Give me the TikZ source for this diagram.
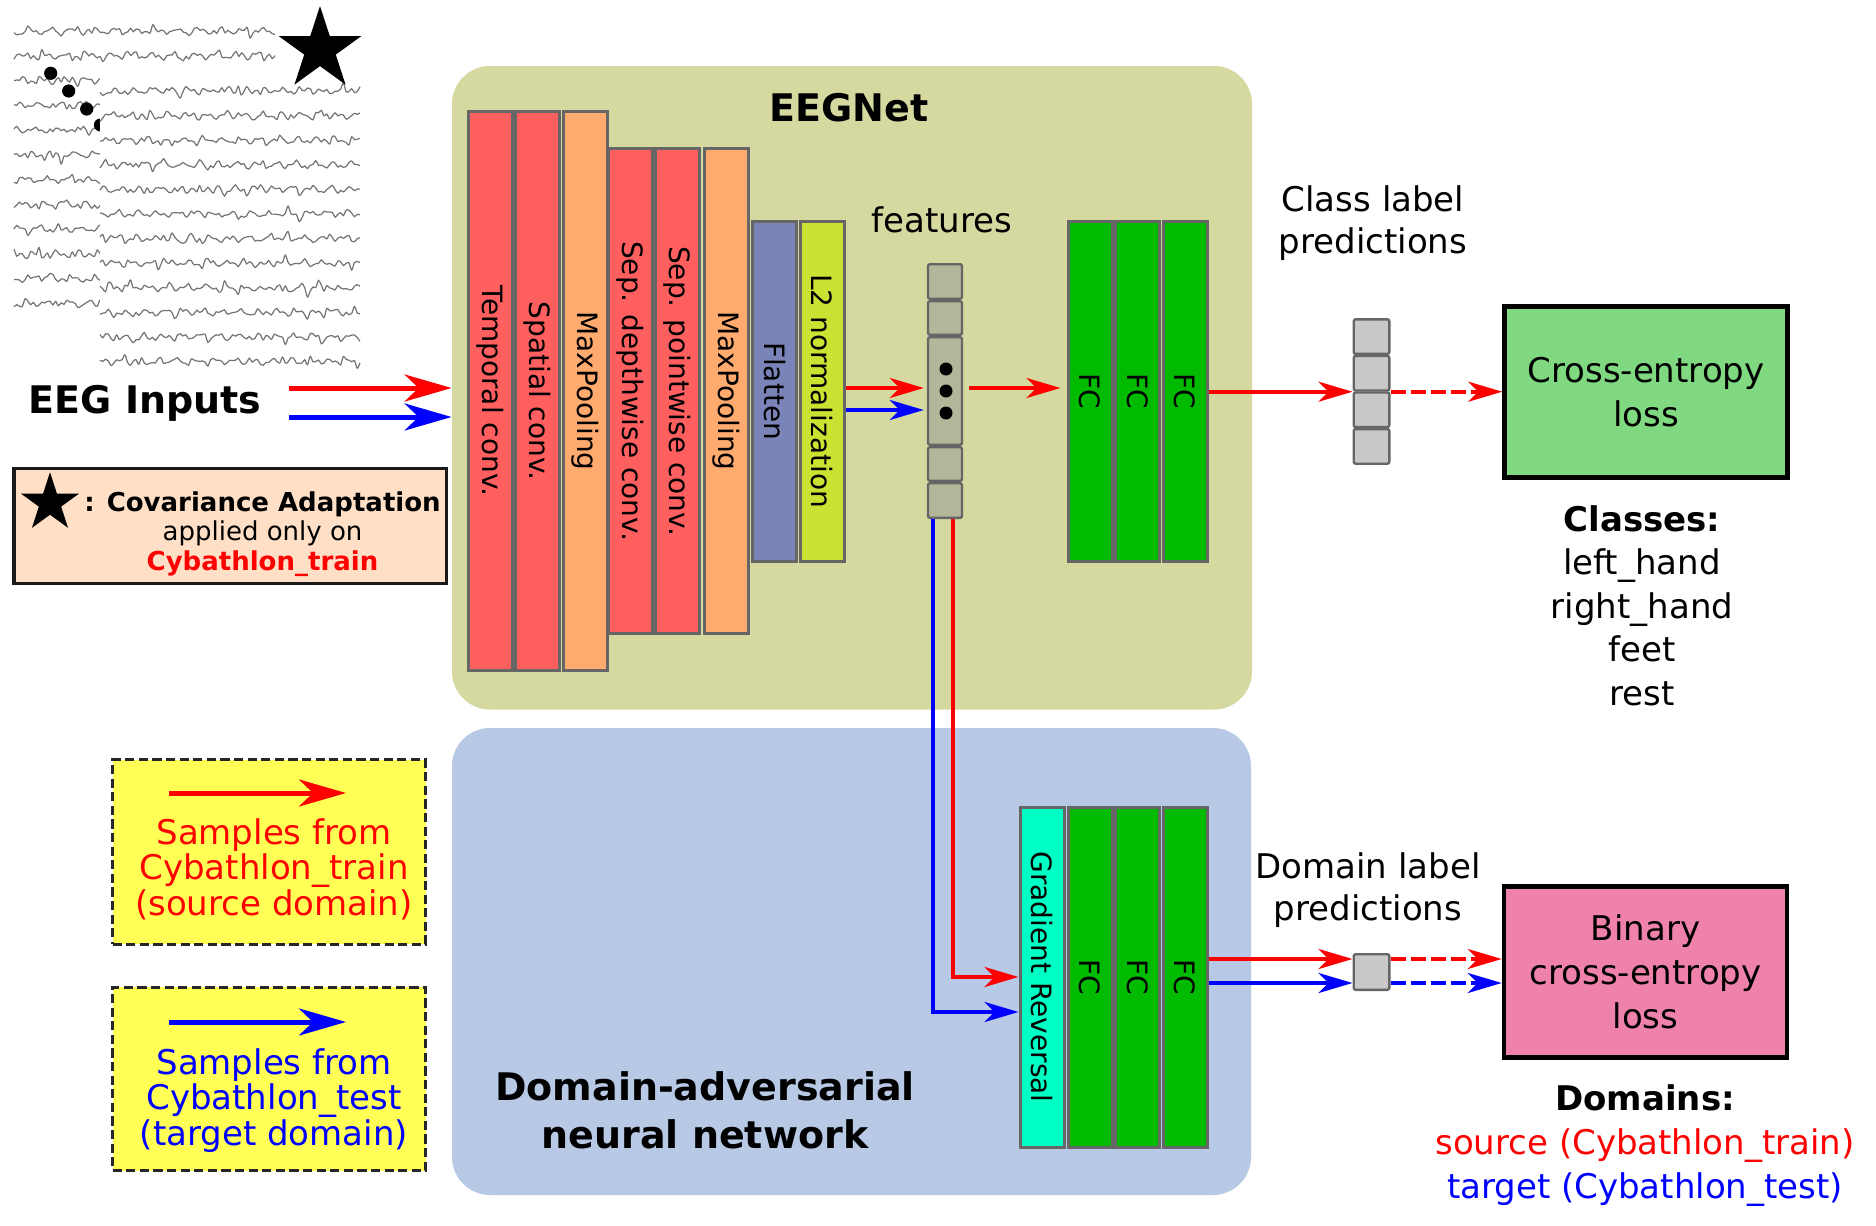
\documentclass[tikz,border=0pt]{standalone}
\usepackage{fontspec}
\setmainfont{DejaVu Sans}
\usetikzlibrary{shapes, arrows.meta, positioning, calc}

\definecolor{convred}{RGB}{255, 95, 95}
\definecolor{poolorange}{RGB}{255, 170, 110}
\definecolor{flatblue}{RGB}{122, 132, 184}
\definecolor{normgreen}{RGB}{204, 226, 51}
\definecolor{fcgreen}{RGB}{0, 187, 0}
\definecolor{gradcyan}{RGB}{0, 255, 196}
\definecolor{eegbg}{RGB}{213, 217, 160}
\definecolor{dannbg}{RGB}{184, 201, 230}
\definecolor{featgray}{RGB}{180, 182, 153}
\definecolor{predgray}{RGB}{200, 200, 200}
\definecolor{cegreen}{RGB}{128, 216, 128}
\definecolor{bcepink}{RGB}{239, 130, 170}
\definecolor{covpeach}{RGB}{255, 223, 198}
\definecolor{legyellow}{RGB}{255, 255, 85}
\definecolor{layerborder}{RGB}{102, 102, 102}
\definecolor{tracegray}{RGB}{115, 115, 115}
\definecolor{srcred}{RGB}{255, 0, 0}
\definecolor{tgtblue}{RGB}{0, 0, 255}

\begin{document}
\begin{tikzpicture}[x=0.5pt, y=-0.5pt,
  panel/.style={rounded corners=19pt, inner sep=0pt},
  layer/.style={draw=layerborder, line width=1.5pt, minimum width=22pt, minimum height=170pt, inner sep=0pt},
  layertext/.style={rotate=-90, font=\fontsize{14}{17}\selectfont},
  cell/.style={draw=layerborder, line width=1.2pt, minimum width=17pt, inner sep=0pt, rounded corners=1pt},
  lossbox/.style={draw=black, line width=2.25pt, minimum width=141.5pt, minimum height=85.5pt, inner sep=0pt, align=center, font=\fontsize{17}{22}\selectfont},
  legbox/.style={draw=black!85, line width=1.5pt, dash pattern=on 4.6pt off 2.2pt, fill=legyellow, minimum width=156.5pt, inner sep=0pt},
  lbl/.style={align=center, anchor=base, font=\fontsize{17}{21}\selectfont},
  title/.style={align=center, anchor=base, font=\bfseries\fontsize{19}{24}\selectfont},
  sig/.style={line width=2pt, -{Stealth[length=17pt, width=10pt, inset=5pt]}},
  bigsig/.style={line width=2.5pt, -{Stealth[length=23.5pt, width=13.5pt, inset=7pt]}},
  dashpat/.style={dash pattern=on 7.5pt off 2.5pt},
  trace/.style={draw=tracegray, line width=0.6pt},
  ]
  \useasboundingbox (0,0) rectangle (1876,1226);

  % Background panels
  \node[panel, fill=eegbg, minimum width=400pt, minimum height=321.75pt] (eegnet) at (852,387.75) {};
  \node[panel, fill=dannbg, minimum width=399.5pt, minimum height=233.5pt] (dann) at (851.5,961.5) {};
  \node[title] (eegtitle) at (849,121) {EEGNet};
  \node[title] (danntitle) at (705,1148) {Domain-adversarial\\neural network};

  % EEG traces: back sheet, dots, front sheet
  \pgfmathsetseed{42}
  \foreach \i in {0,...,11}
    \draw[trace] plot[smooth, tension=0.55, domain=0:261, samples=95]
      ({14+\x}, {31+24.75*\i + 2.2*sin(17*\x+71*\i) + 1.6*sin(43*\x+113*\i) + 7*rand*rand*rand + 0.8*rand});
  \foreach \p in {(50.7,73.3), (68.7,91), (86.7,109), (100.5,125)}
    \fill \p circle (3.3pt);
  \fill[white] (100,66) rectangle (368,380);
  \foreach \i in {0,...,11}
    \draw[trace] plot[smooth, tension=0.55, domain=0:260, samples=95]
      ({100+\x}, {91+24.6*\i + 2.2*sin(19*\x+53*\i) + 1.6*sin(41*\x+29*\i) + 7*rand*rand*rand + 0.8*rand});
  \node[star, star points=5, star point ratio=2.618, fill=black, inner sep=0pt, minimum size=43.5pt] (bigstar) at (320,49.5) {};

  % Inputs
  \node[title] (inputs) at (145,413) {EEG Inputs};
  \coordinate (inred) at (289,388);
  \coordinate (inblue) at (289,417);
  \draw[bigsig, srcred] (inred) -- (inred -| eegnet.west);
  \draw[bigsig, tgtblue] (inblue) -- (inblue -| eegnet.west);

  % Covariance adaptation note
  \node[draw=black!90, line width=1.75pt, fill=covpeach, minimum width=216.25pt, minimum height=57.5pt, inner sep=0pt] (covbox) at (230,526) {};
  \node[star, star points=5, star point ratio=2.618, fill=black, inner sep=0pt, minimum size=30.7pt] (covstar) at (50,503) {};
  \node[align=center, anchor=base, font=\fontsize{13}{14.75}\selectfont] (covtxt) at (262.5,570)
    {\textbf{: Covariance Adaptation}\\applied only on\\\textcolor{srcred}{\textbf{Cybathlon\_train}}};

  % EEGNet layers
  \node[layer, fill=convred, minimum height=279.5pt, label={[layertext]center:Temporal conv.}] (tconv) at (490,391) {};
  \node[layer, fill=convred, minimum height=279.5pt, label={[layertext]center:Spatial conv.}] (sconv) at (537.5,391) {};
  \node[layer, fill=poolorange, minimum height=279.5pt, label={[layertext]center:MaxPooling}] (pool1) at (585,391) {};
  \node[layer, fill=convred, minimum height=242.5pt, label={[layertext]center:Sep. depthwise conv.}] (dconv) at (630,391) {};
  \node[layer, fill=convred, minimum height=242.5pt, label={[layertext]center:Sep. pointwise conv.}] (pconv) at (677.5,391) {};
  \node[layer, fill=poolorange, minimum height=242.5pt, label={[layertext]center:MaxPooling}] (pool2) at (726,391) {};
  \node[layer, fill=flatblue, label={[layertext]center:Flatten}] (flat) at (774.5,391) {};
  \node[layer, fill=normgreen, label={[layertext]center:L2 normalization}] (l2) at (822,391) {};

  % Feature vector
  \node[lbl] (feattxt) at (942,232) {features};
  \node[cell, fill=featgray, minimum height=17.3pt] (f1) at (945,281.5) {};
  \node[cell, fill=featgray, minimum height=16.8pt] (f2) at (945,318) {};
  \node[cell, fill=featgray, minimum height=53.8pt] (fmid) at (945,391) {};
  \node[cell, fill=featgray, minimum height=16.8pt] (f4) at (945,464) {};
  \node[cell, fill=featgray, minimum height=17.3pt] (f5) at (945,500.5) {};
  \foreach \dy in {-22,0,22}
    \fill ($(fmid.center)+(1,\dy)$) circle (3.25pt);

  \coordinate (fred) at ([yshift=1.5pt]fmid.west);
  \coordinate (fblue) at ([yshift=-9.5pt]fmid.west);
  \draw[sig, srcred, shorten >=1.5pt] (l2.east |- fred) -- (fred);
  \draw[sig, tgtblue, shorten >=1.5pt] (l2.east |- fblue) -- (fblue);

  % Class head
  \node[layer, fill=fcgreen, label={[layertext]center:FC}] (fc1) at (1090,391) {};
  \node[layer, fill=fcgreen, label={[layertext]center:FC}] (fc2) at (1137.5,391) {};
  \node[layer, fill=fcgreen, label={[layertext]center:FC}] (fc3) at (1185,391) {};
  \draw[sig, srcred, shorten <=3pt, shorten >=3pt] (fred -| fmid.east) -- (fred -| fc1.west);

  \node[lbl] (clstxt) at (1373,253) {Class label\\predictions};
  \node[cell, fill=predgray, minimum width=17.8pt, minimum height=17.3pt] (cls1) at (1371.5,336.6) {};
  \node[cell, fill=predgray, minimum width=17.8pt, minimum height=17.3pt] (cls2) at (1371.5,373.2) {};
  \node[cell, fill=predgray, minimum width=17.8pt, minimum height=17.3pt] (cls3) at (1371.5,409.8) {};
  \node[cell, fill=predgray, minimum width=17.8pt, minimum height=17.3pt] (cls4) at (1371.5,446.4) {};
  \node[lossbox, fill=cegreen] (celoss) at (1646,392) {Cross-entropy\\loss};
  \draw[sig, srcred] (fc3.east |- cls2.south west) -- (cls2.south west);
  \draw[sig, srcred, dashpat] (cls2.south east) -- (cls2.south east -| celoss.west);
  \node[lbl, font=\fontsize{17}{21.7}\selectfont] (classes) at (1642,705)
    {\textbf{Classes:}\\left\_hand\\right\_hand\\feet\\rest};

  % Domain head
  \node[layer, fill=gradcyan, label={[layertext]center:Gradient Reversal}] (grev) at (1042,977) {};
  \node[layer, fill=fcgreen, label={[layertext]center:FC}] (dfc1) at (1090,977) {};
  \node[layer, fill=fcgreen, label={[layertext]center:FC}] (dfc2) at (1137.5,977) {};
  \node[layer, fill=fcgreen, label={[layertext]center:FC}] (dfc3) at (1185,977) {};

  \coordinate (fdred) at ([xshift=4pt]f5.south);
  \coordinate (fdblue) at ([xshift=-6pt]f5.south);
  \draw[sig, srcred] (fdred) |- (grev.west);
  \draw[sig, tgtblue] (fdblue) |- ([yshift=-17.5pt]grev.west);

  \node[lbl] (domtxt) at (1368,920) {Domain label\\predictions};
  \node[cell, fill=predgray, minimum width=17.8pt, minimum height=17.8pt] (dvec) at (1371.5,972) {};
  \node[lossbox, fill=bcepink] (bce) at (1645.5,972) {Binary\\cross-entropy\\loss};
  \coordinate (dred) at ([yshift=6.5pt]dvec.west);
  \coordinate (dblue) at ([yshift=-5.5pt]dvec.west);
  \draw[sig, srcred] (dfc3.east |- dred) -- (dred);
  \draw[sig, tgtblue] (dfc3.east |- dblue) -- (dblue);
  \draw[sig, srcred, dashpat] (dred -| dvec.east) -- (dred -| bce.west);
  \draw[sig, tgtblue, dashpat] (dblue -| dvec.east) -- (dblue -| bce.west);
  \node[lbl, font=\fontsize{17}{22}\selectfont] (domains) at (1645,1198)
    {\textbf{Domains:}\\\textcolor{srcred}{source (Cybathlon\_train)}\\\textcolor{tgtblue}{target (Cybathlon\_test)}};

  % Legend
  \node[legbox, minimum height=92.35pt] (srcleg) at (269,852) {};
  \coordinate (srca) at (169,793);
  \coordinate (srcb) at (346,793);
  \draw[bigsig, srcred] (srca) -- (srcb);
  \node[lbl, text=srcred, font=\fontsize{17}{17.75}\selectfont] (srctxt) at (274,915)
    {Samples from\\Cybathlon\_train\\(source domain)};

  \node[legbox, minimum height=91.65pt] (tgtleg) at (269,1079) {};
  \coordinate (tgta) at (169,1022);
  \coordinate (tgtb) at (346,1022);
  \draw[bigsig, tgtblue] (tgta) -- (tgtb);
  \node[lbl, text=tgtblue, font=\fontsize{17}{17.75}\selectfont] (tgttxt) at (274,1145)
    {Samples from\\Cybathlon\_test\\(target domain)};
\end{tikzpicture}
\end{document}
